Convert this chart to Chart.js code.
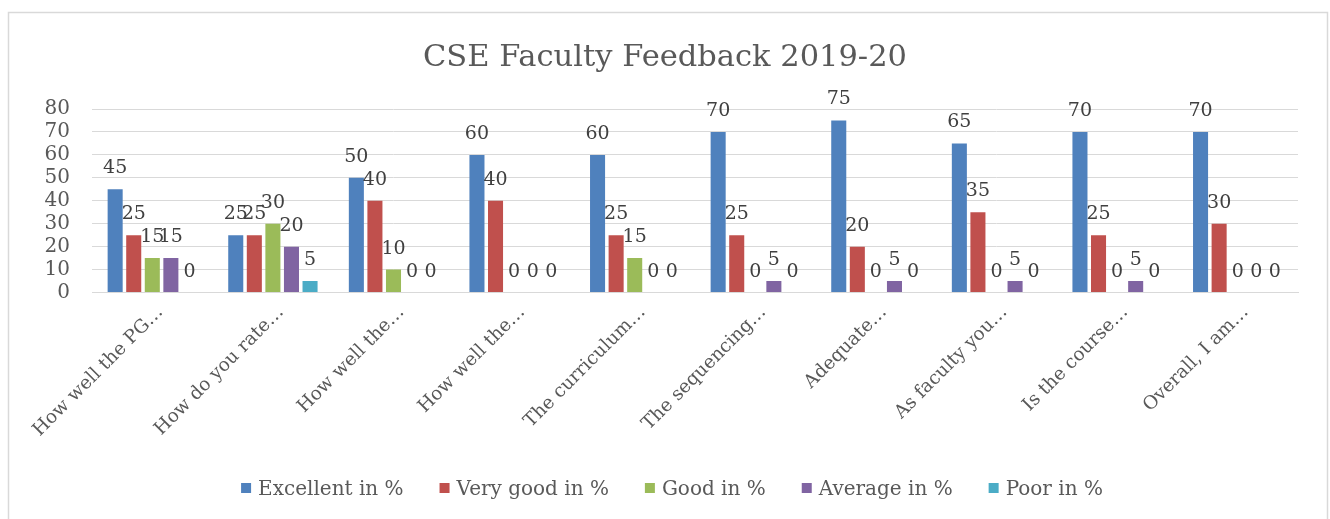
<!DOCTYPE html>
<html>
<head>
<meta charset="utf-8">
<title>CSE Faculty Feedback 2019-20</title>
<script src="https://cdn.jsdelivr.net/npm/chart.js@4.4.1/dist/chart.umd.min.js"></script>
<style>
  html, body { margin: 0; padding: 0; background: #ffffff; }
  #wrap { position: relative; width: 1330px; height: 519px; }
</style>
</head>
<body>
<div id="wrap"><canvas id="chart" width="1330" height="519"></canvas></div>
<script>
// Survey questions (shortened as on the axis)
const categories = [
  "How well the PG…",
  "How do you rate…",
  "How well the…",
  "How well the…",
  "The curriculum…",
  "The sequencing…",
  "Adequate…",
  "As faculty you…",
  "Is the course…",
  "Overall, I am…"
];

// Share of responses per rating, in %
const excellent = [45, 25, 50, 60, 60, 70, 75, 65, 70, 70];
const veryGood  = [25, 25, 40, 40, 25, 25, 20, 35, 25, 30];
const good      = [15, 30, 10,  0, 15,  0,  0,  0,  0,  0];
const average   = [15, 20,  0,  0,  0,  5,  5,  5,  5,  0];
const poor      = [ 0,  5,  0,  0,  0,  0,  0,  0,  0,  0];

const seriesNames = ["Excellent in %", "Very good in %", "Good in %", "Average in %", "Poor in %"];
const seriesColors = ["#4F81BD", "#C0504D", "#9BBB59", "#8064A2", "#4BACC6"];

// Value axis
const yMin = 0, yMax = 80, yStep = 10;

const SERIF = "'DejaVu Serif', 'Liberation Serif', serif";

// Light frame around the whole chart
const framePlugin = {
  id: 'frame',
  beforeDraw(chart) {
    const ctx = chart.ctx;
    ctx.save();
    ctx.strokeStyle = '#d9d9d9';
    ctx.lineWidth = 1.5;
    ctx.strokeRect(8.5, 12.5, 1319, 600);
    ctx.restore();
  }
};

// Value printed above every bar
const valueLabels = {
  id: 'valueLabels',
  afterDatasetsDraw(chart) {
    const ctx = chart.ctx;
    ctx.save();
    ctx.font = "19px " + SERIF;
    ctx.fillStyle = '#404040';
    ctx.textAlign = 'center';
    ctx.textBaseline = 'alphabetic';
    chart.data.datasets.forEach((ds, i) => {
      const meta = chart.getDatasetMeta(i);
      meta.data.forEach((bar, j) => {
        ctx.fillText(String(ds.data[j]), bar.x, bar.y - 16);
      });
    });
    ctx.restore();
  }
};

// Legend row along the bottom edge
const bottomLegend = {
  id: 'bottomLegend',
  afterDraw(chart) {
    const ctx = chart.ctx;
    const box = 10;
    const boxGap = 7;
    const itemGap = 36;
    const baseline = 495;
    ctx.save();
    ctx.font = "20px " + SERIF;
    ctx.textBaseline = 'alphabetic';
    ctx.textAlign = 'left';
    const widths = chart.data.datasets.map(ds => ctx.measureText(ds.label).width);
    const total = widths.reduce((a, w) => a + box + boxGap + w, 0) + itemGap * (widths.length - 1);
    let x = (chart.width - total) / 2 + 7;
    chart.data.datasets.forEach((ds, i) => {
      ctx.fillStyle = ds.backgroundColor;
      ctx.fillRect(x, baseline - 12, box, box);
      const tx = x + box + boxGap;
      ctx.fillStyle = '#595959';
      ctx.fillText(ds.label, tx, baseline);
      x = tx + widths[i] + itemGap;
    });
    ctx.restore();
  }
};

const seriesValues = [excellent, veryGood, good, average, poor];

new Chart(document.getElementById('chart'), {
  type: 'bar',
  data: {
    labels: categories,
    datasets: seriesValues.map((vals, i) => ({
      label: seriesNames[i],
      data: vals,
      backgroundColor: seriesColors[i],
      borderWidth: 0,
      categoryPercentage: 0.77,
      barPercentage: 0.81
    }))
  },
  options: {
    responsive: false,
    animation: false,
    layout: { padding: { left: 0, right: 0, top: 0, bottom: 0 } },
    plugins: {
      legend: { display: false },
      tooltip: { enabled: false },
      title: {
        display: true,
        text: 'CSE Faculty Feedback 2019-20',
        color: '#595959',
        font: { family: SERIF, size: 30.5, weight: 'normal', lineHeight: 1.2 },
        padding: { top: 39.5, bottom: 32.9 }
      }
    },
    scales: {
      x: {
        grid: { display: false, drawTicks: false },
        border: { display: true, color: '#d9d9d9', width: 1 },
        ticks: {
          autoSkip: false,
          maxRotation: 45,
          minRotation: 45,
          padding: 9,
          labelOffset: 8,
          color: '#595959',
          font: { family: SERIF, size: 18.5 }
        },
        afterFit(scale) { scale.height = 226.5; }
      },
      y: {
        min: yMin,
        max: yMax,
        grid: { color: '#d9d9d9', lineWidth: 1, drawTicks: false },
        border: { display: false },
        ticks: {
          stepSize: yStep,
          autoSkip: false,
          padding: 22,
          color: '#595959',
          font: { family: SERIF, size: 20, lineHeight: 1 }
        },
        afterFit(scale) { scale.width = 92; }
      },
      // empty margin to the right of the plot
      yRight: {
        position: 'right',
        grid: { display: false, drawTicks: false },
        border: { display: false },
        ticks: { display: false },
        afterFit(scale) { scale.width = 32; }
      }
    }
  },
  plugins: [framePlugin, valueLabels, bottomLegend]
});
</script>
</body>
</html>
